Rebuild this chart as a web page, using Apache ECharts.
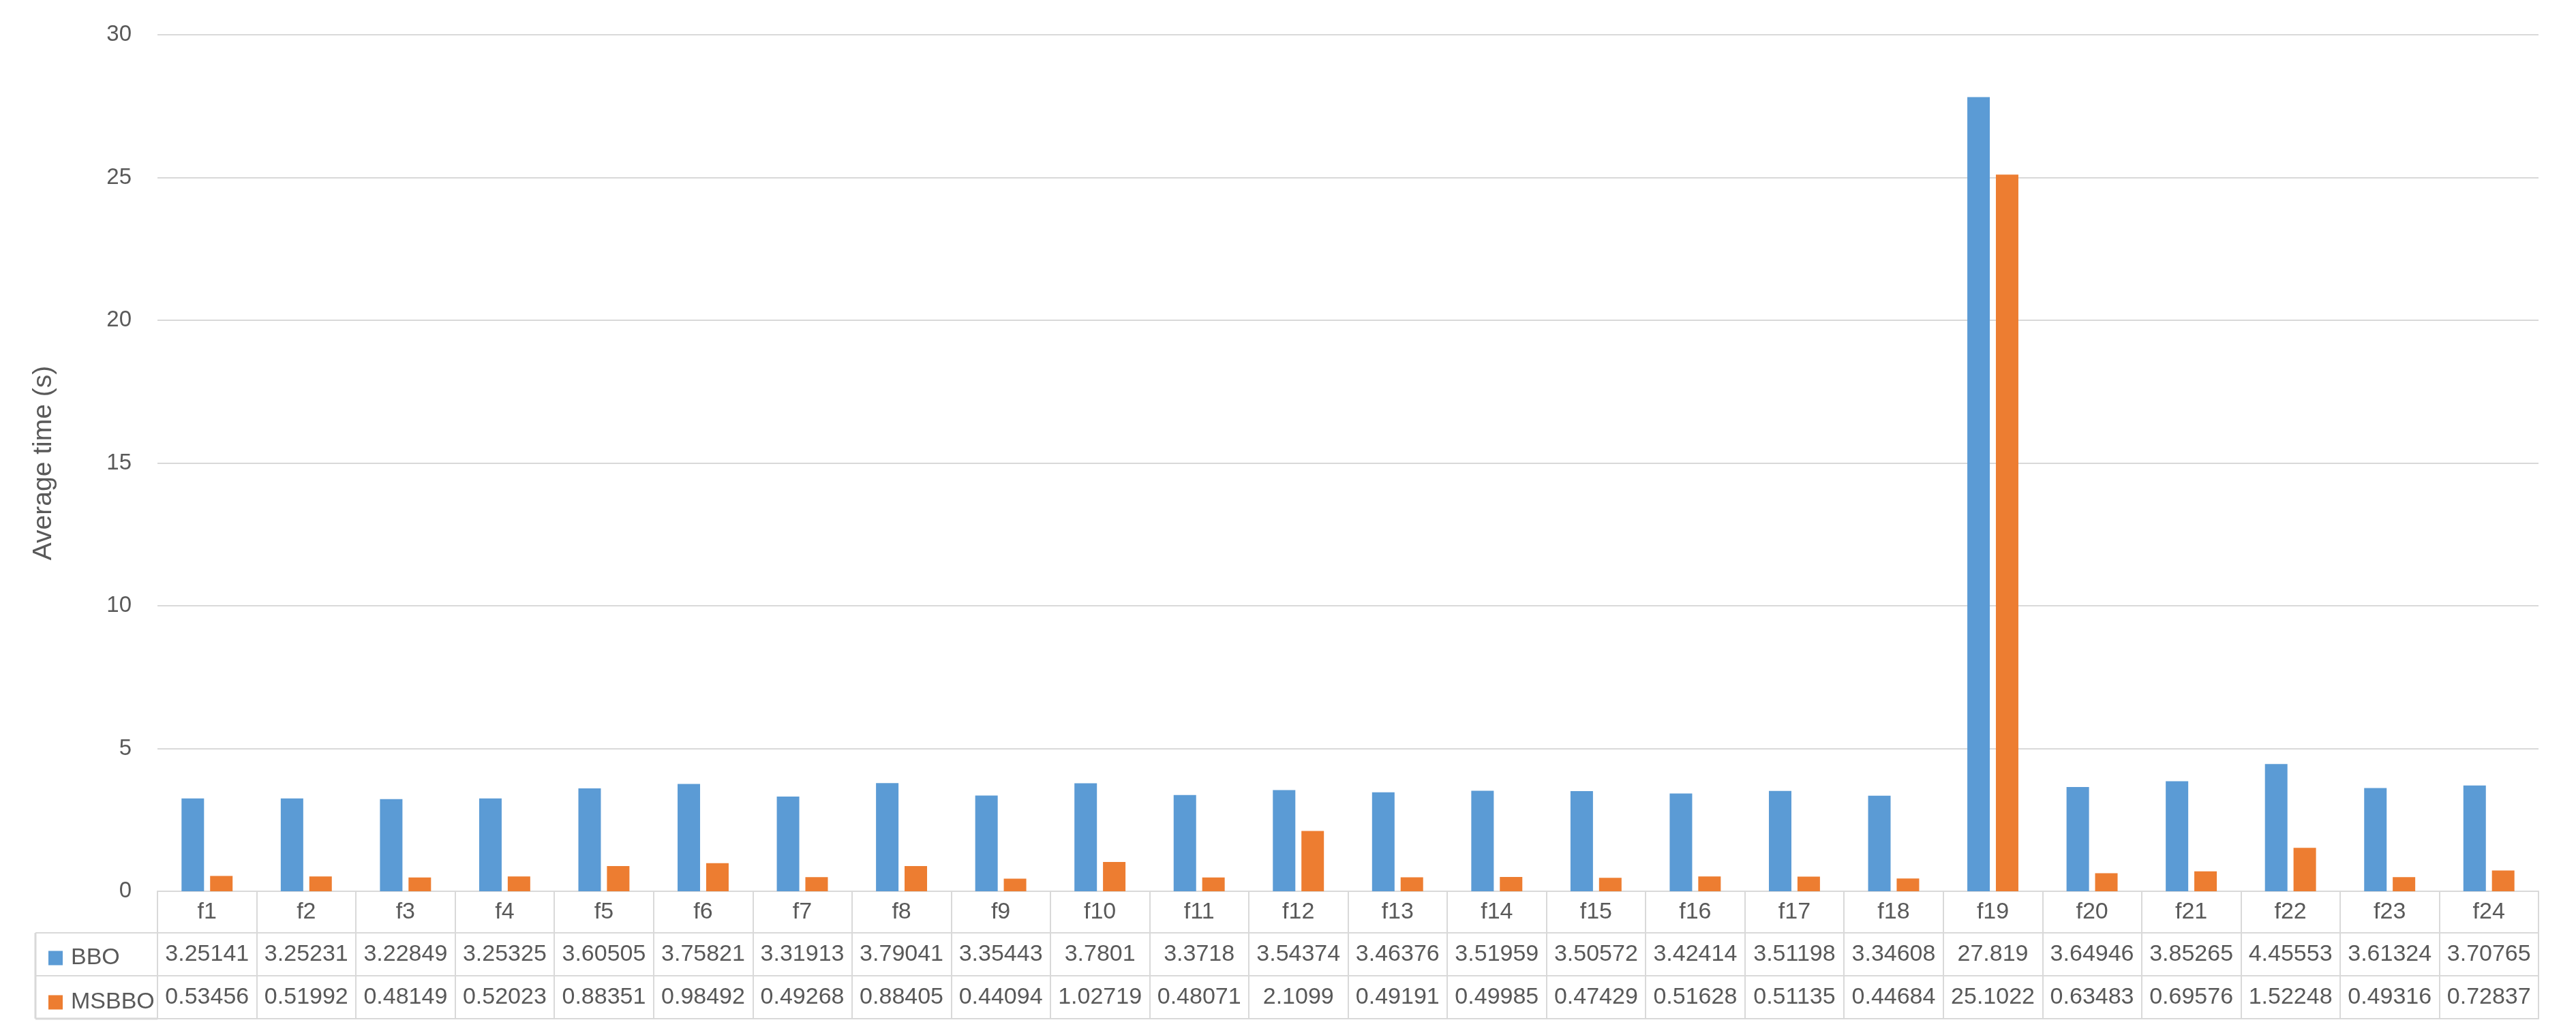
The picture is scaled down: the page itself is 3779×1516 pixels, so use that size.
<!DOCTYPE html>
<html><head><meta charset="utf-8">
<script src="https://cdn.jsdelivr.net/npm/echarts@6/dist/echarts.min.js"></script>
<style>html,body{margin:0;padding:0;background:#fff}#c{width:3779px;height:1516px}</style>
</head><body><div id="c"></div>
<script>
const categories = ['f1','f2','f3','f4','f5','f6','f7','f8','f9','f10','f11','f12','f13','f14','f15','f16','f17','f18','f19','f20','f21','f22','f23','f24'];
const bboValues = [3.25141,3.25231,3.22849,3.25325,3.60505,3.75821,3.31913,3.79041,3.35443,3.7801,3.3718,3.54374,3.46376,3.51959,3.50572,3.42414,3.51198,3.34608,27.819,3.64946,3.85265,4.45553,3.61324,3.70765];
const msbboValues = [0.53456,0.51992,0.48149,0.52023,0.88351,0.98492,0.49268,0.88405,0.44094,1.02719,0.48071,2.1099,0.49191,0.49985,0.47429,0.51628,0.51135,0.44684,25.1022,0.63483,0.69576,1.52248,0.49316,0.72837];
const seriesNames = ['BBO','MSBBO'];
const yMin = 0, yMax = 30, yStep = 5;
const yTitle = 'Average time (s)';

// layout
const W = 3779, H = 1516;
const gL = 231, gR = 3724, gT = 51, gB = 1308;
const row1 = 61, row2 = 63, row3 = 63;
const tableLeft = 52;
const lineCol = '#D9D9D9', txtCol = '#595959';
const font = 'Liberation Sans, Arial, sans-serif';

const chart = echarts.init(document.getElementById('c'), null, {renderer:'canvas'});

function tableAxis(offset, tickLen, labels, margin) {
  return {
    type: 'category', data: categories, position: 'bottom', offset: offset,
    boundaryGap: true,
    axisLine: {show: true, lineStyle: {color: lineCol, width: 2}},
    axisTick: {show: tickLen > 0, length: tickLen, alignWithLabel: false, interval: 0, lineStyle: {color: lineCol, width: 2}},
    axisLabel: labels ? {show: true, interval: 0, margin: margin, verticalAlign: 'middle',
      color: txtCol, fontSize: 34, fontFamily: font,
      formatter: (v, i) => String(labels[i])} : {show: false},
    splitLine: {show: false}
  };
}

const option = {
  backgroundColor: '#fff',
  animation: false,
  grid: {left: gL, right: W - gR, top: gT, bottom: H - gB, containLabel: false},
  legend: {
    data: seriesNames, orient: 'vertical', left: 66, top: 1384,
    itemWidth: 21, itemHeight: 21, itemGap: 31, icon: 'rect',
    textStyle: {color: txtCol, fontSize: 34, fontFamily: font, lineHeight: 32, padding: [0,0,0,7]},
    selectedMode: false
  },
  xAxis: [
    tableAxis(0, row1, categories, row1/2),
    tableAxis(row1, row2, bboValues, row2/2),
    tableAxis(row1 + row2, row3, msbboValues, row3/2),
    tableAxis(row1 + row2 + row3, 0, null, 0)
  ],
  yAxis: {
    type: 'value', min: yMin, max: yMax, interval: yStep,
    name: yTitle, nameLocation: 'middle', nameRotate: 90, nameGap: 147,
    nameTextStyle: {color: txtCol, fontSize: 39, fontFamily: font},
    axisLine: {show: false}, axisTick: {show: false},
    axisLabel: {color: txtCol, fontSize: 33, fontFamily: font, margin: 38},
    splitLine: {lineStyle: {color: lineCol, width: 2}}
  },
  series: [
    {name: seriesNames[0], type: 'bar', xAxisIndex: 0, data: bboValues, barWidth: 33, barGap: '27%', itemStyle: {color: '#5B9BD5'}},
    {name: seriesNames[1], type: 'bar', xAxisIndex: 0, data: msbboValues, barWidth: 33, barGap: '27%', itemStyle: {color: '#ED7D31'}}
  ],
  graphic: [
    {type: 'line', shape: {x1: tableLeft, y1: gB + row1, x2: gL, y2: gB + row1}, style: {stroke: lineCol, lineWidth: 2}},
    {type: 'line', shape: {x1: tableLeft, y1: gB + row1 + row2, x2: gL, y2: gB + row1 + row2}, style: {stroke: lineCol, lineWidth: 2}},
    {type: 'line', shape: {x1: tableLeft, y1: gB + row1 + row2 + row3, x2: gL, y2: gB + row1 + row2 + row3}, style: {stroke: lineCol, lineWidth: 3}},
    {type: 'line', shape: {x1: tableLeft, y1: gB + row1, x2: tableLeft, y2: gB + row1 + row2 + row3}, style: {stroke: lineCol, lineWidth: 3}}
  ]
};
chart.setOption(option);
</script>
</body></html>
